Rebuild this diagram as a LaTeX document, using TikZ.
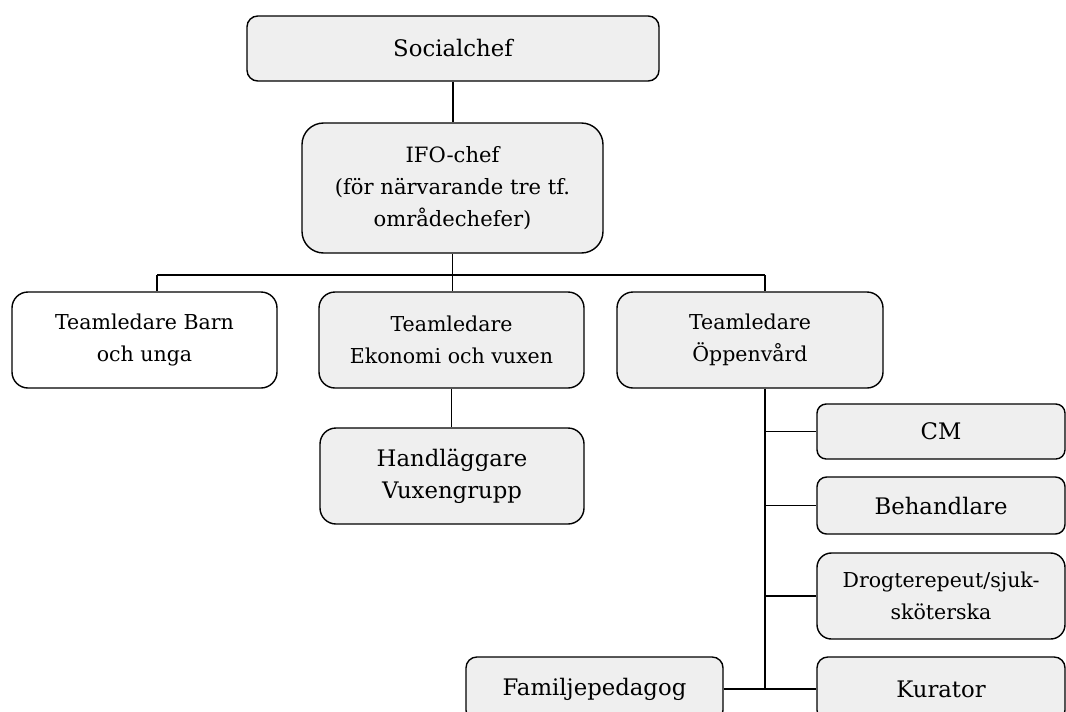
\documentclass[tikz,border=0pt]{standalone}
\usepackage{fontspec}
\setmainfont{DejaVu Serif}
\usepackage{tikz}
\definecolor{boxgray}{HTML}{EFEFEF}
\tikzset{
    unit/.style={draw, line width=1pt, fill=boxgray, align=center, inner sep=0pt,
        font=\fontsize{16.2}{22.8}\selectfont},
    smallunit/.style={unit, font=\fontsize{14.6}{22.8}\selectfont},
    link/.style={line width=1pt}
}

\begin{document}
\begin{tikzpicture}
    \useasboundingbox (0,0) rectangle (26.65,-17.775);
    %boxes
    \node[unit, rounded corners=0.27cm, minimum width=10.3cm, minimum height=1.625cm] (soc) at (11.325,-1.2125) {Socialchef};
    \node[unit, font=\fontsize{15}{22.8}\selectfont, rounded corners=0.54cm, minimum width=7.525cm, minimum height=3.25cm] (ifo) at (11.3125,-4.7) {IFO-chef\\(för närvarande tre tf.\\områdechefer)};
    \node[smallunit, fill=white, rounded corners=0.4cm, minimum width=6.625cm, minimum height=2.4cm] (barn) at (3.6125,-8.5) {Teamledare Barn\\och unga};
    \node[smallunit, rounded corners=0.4cm, minimum width=6.625cm, minimum height=2.4cm] (ekon) at (11.2875,-8.5) {Teamledare\\Ekonomi och vuxen};
    \node[smallunit, rounded corners=0.4cm, minimum width=6.65cm, minimum height=2.4cm] (oppen) at (18.75,-8.5) {Teamledare\\Öppenvård};
    \node[unit, rounded corners=0.4cm, minimum width=6.6cm, minimum height=2.4cm] (hand) at (11.3,-11.9) {Handläggare\\Vuxengrupp};
    \node[unit, rounded corners=0.23cm, minimum width=6.2cm, minimum height=1.375cm] (cm) at (23.525,-10.7875) {CM};
    \node[unit, rounded corners=0.24cm, minimum width=6.2cm, minimum height=1.425cm] (beh) at (23.525,-12.6375) {Behandlare};
    \node[smallunit, rounded corners=0.36cm, minimum width=6.2cm, minimum height=2.15cm] (drog) at (23.525,-14.9) {Drogterepeut/sjuk-\\sköterska};
    \node[unit, rounded corners=0.27cm, minimum width=6.2cm, minimum height=1.6cm] (kur) at (23.525,-17.225) {Kurator};
    \node[unit, rounded corners=0.27cm, minimum width=6.425cm, minimum height=1.6cm] (fam) at (14.8625,-17.225) {Familjepedagog};
    %lines
    \coordinate (busL) at (3.925,-6.875);
    \coordinate (busR) at (19.125,-6.875);
    \draw[link] (soc.south) -- (soc.south |- ifo.north);
    \draw[link] (ifo.south) -- (ifo.south |- ekon.north);
    \draw[link] (busL) -- (busR);
    \draw[link] (busL) -- (busL |- barn.north);
    \draw[link] (busR) -- (busR |- oppen.north);
    \draw[link] (ekon.south) -- (ekon.south |- hand.north);
    \draw[link] (busR |- oppen.south) -- (busR |- kur.west);
    \draw[link] (busR |- cm.west) -- (cm.west);
    \draw[link] (busR |- beh.west) -- (beh.west);
    \draw[link] (busR |- drog.west) -- (drog.west);
    \draw[link] (fam.east) -- (kur.west);
\end{tikzpicture}
\end{document}
